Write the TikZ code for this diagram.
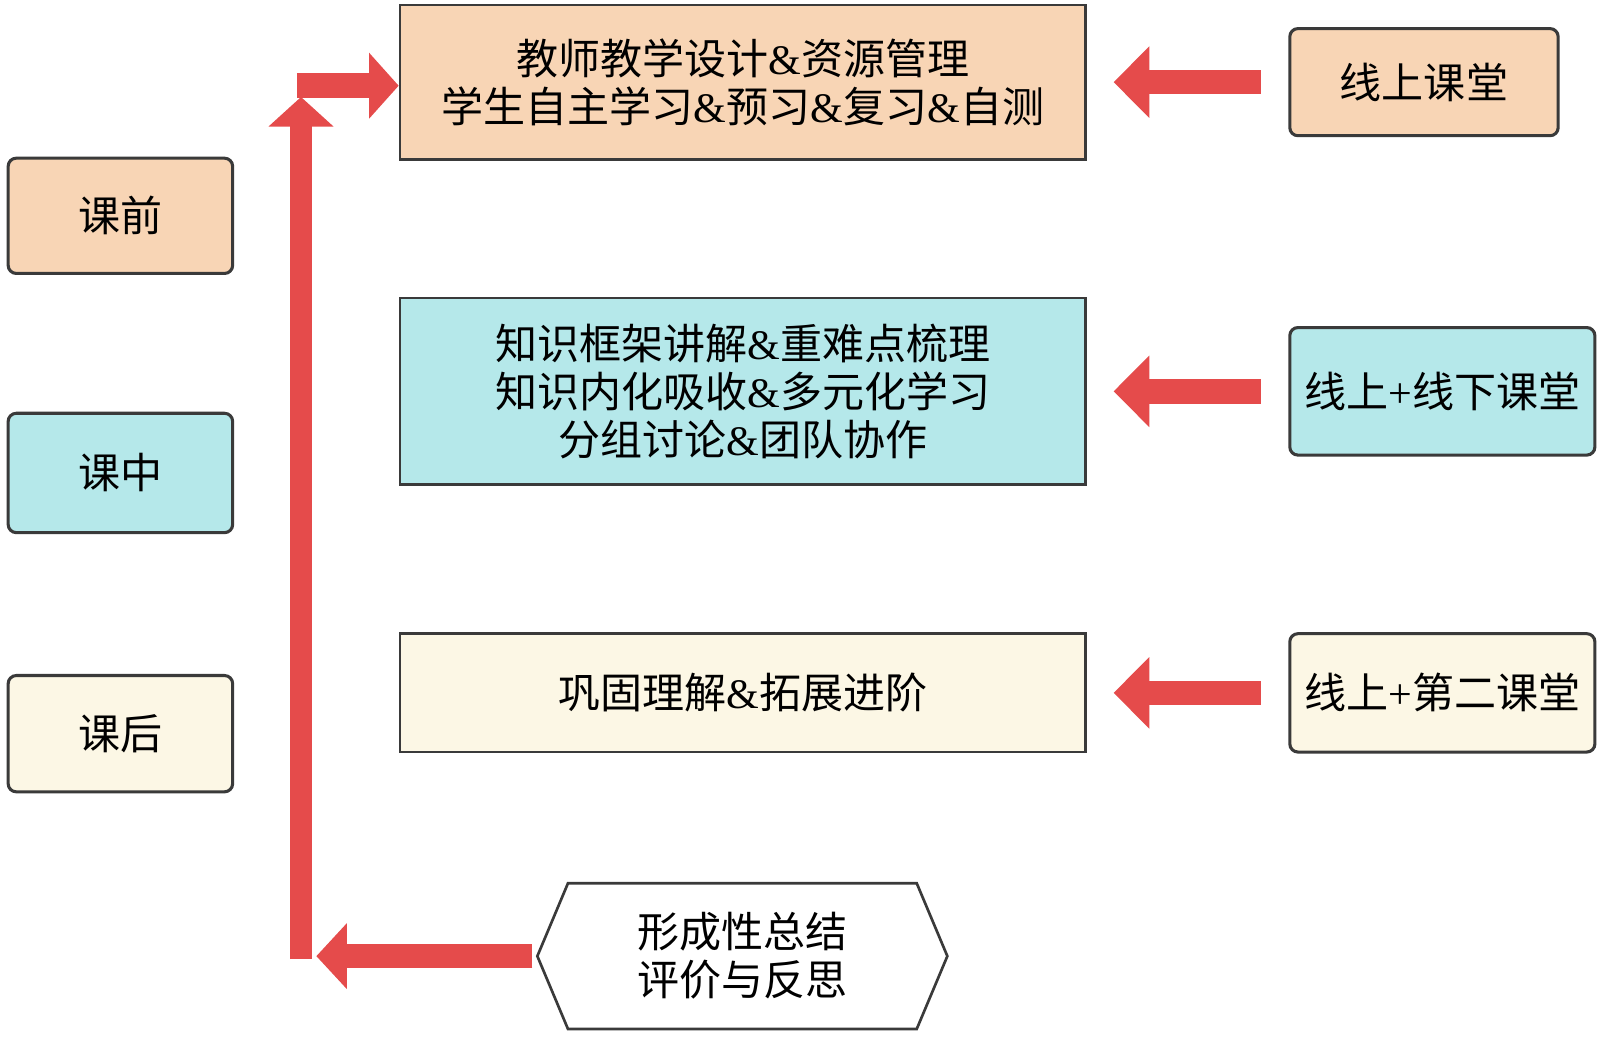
\documentclass[tikz,border=0pt]{standalone}
\usepackage{fontspec}
\setmainfont{Liberation Serif}
\newfontfamily\cjk{Noto Sans CJK SC}
\usetikzlibrary{arrows.meta,calc}
\definecolor{peach}{HTML}{F8D5B5}
\definecolor{cyanbox}{HTML}{B5E8EA}
\definecolor{cream}{HTML}{FCF7E5}
\definecolor{edge}{HTML}{3A3A3A}
\definecolor{arrowred}{HTML}{E54B4B}
\newcommand\myamp{{\rmfamily\&}}
\newcommand\myplus{{\rmfamily+}}
\begin{document}
\begin{tikzpicture}[x=0.5pt,y=-0.5pt,
  txt/.style={font=\cjk\fontsize{20.6}{23.5}\selectfont, align=center, inner sep=0pt, text=black},
  sidebox/.style={txt, draw=edge, line width=1.5pt, rounded corners=4pt},
  midbox/.style={txt, draw=edge, line width=1.3pt, minimum width=336pt},
  redarrow/.style={draw=arrowred, line width=12pt, -{Triangle[length=17.5pt,width=34pt]}}
]
\useasboundingbox (0,0) rectangle (1568,1016);
\fill[white] (0,0) rectangle (1568,1016);

% left stage boxes
\node[sidebox, fill=peach, minimum width=110pt, minimum height=56.5pt] (pre) at (118,211.5) {课前};
\node[sidebox, fill=cyanbox, minimum width=110pt, minimum height=58.5pt] (mid) at (118,463.5) {课中};
\node[sidebox, fill=cream, minimum width=110pt, minimum height=57pt] (post) at (118,719) {课后};

% centre boxes
\node[midbox, fill=peach, minimum height=75.5pt] (cb1) at (728,80.5)
  {教师教学设计\myamp 资源管理\\学生自主学习\myamp 预习\myamp 复习\myamp 自测};
\node[midbox, fill=cyanbox, minimum height=91.5pt] (cb2) at (728,383.5)
  {知识框架讲解\myamp 重难点梳理\\知识内化吸收\myamp 多元化学习\\分组讨论\myamp 团队协作};
\node[midbox, fill=cream, minimum height=58pt] (cb3) at (728,679)
  {巩固理解\myamp 拓展进阶};

% right boxes
\node[sidebox, fill=peach, minimum width=131.5pt, minimum height=52.5pt] (rb1) at (1395.5,80.5) {线上课堂};
\node[sidebox, fill=cyanbox, minimum width=149.5pt, minimum height=62.5pt] (rb2) at (1413.5,383.5) {线上\myplus 线下课堂};
\node[sidebox, fill=cream, minimum width=149.5pt, minimum height=58pt] (rb3) at (1413.5,679) {线上\myplus 第二课堂};

% hexagon
\node[txt, minimum width=200.5pt, minimum height=71pt] (hex) at (727.5,937) {形成性总结\\评价与反思};
\draw[edge, line width=1.3pt, line join=miter]
  (hex.west) -- ($(hex.north west)+(30,0)$) -- ($(hex.north east)+(-30,0)$) -- (hex.east)
  -- ($(hex.south east)+(-30,0)$) -- ($(hex.south west)+(30,0)$) -- cycle;

% right-to-centre arrows
\draw[redarrow, shorten <=13.5pt, shorten >=13pt] (rb1.west) -- (cb1.east |- rb1.west);
\draw[redarrow, shorten <=13.5pt, shorten >=13pt] (rb2.west) -- (cb2.east |- rb2.west);
\draw[redarrow, shorten <=13.5pt, shorten >=13pt] (rb3.west) -- (cb3.east |- rb3.west);

% feedback loop
\coordinate (vb) at (295,940);
\coordinate (vt) at (295,95);
\coordinate (hs) at (291,84);
\coordinate (bt) at (310,937);
\draw[draw=arrowred, line width=11pt, -{Triangle[length=14.5pt,width=31pt]}] (vb) -- (vt);
\draw[draw=arrowred, line width=12pt, -{Triangle[length=14.5pt,width=31.5pt]}] (hs) -- (hs -| cb1.west);
\draw[draw=arrowred, line width=11.5pt, -{Triangle[length=15pt,width=31.5pt]}, shorten <=2.5pt] (hex.west) -- (bt);
\end{tikzpicture}
\end{document}
